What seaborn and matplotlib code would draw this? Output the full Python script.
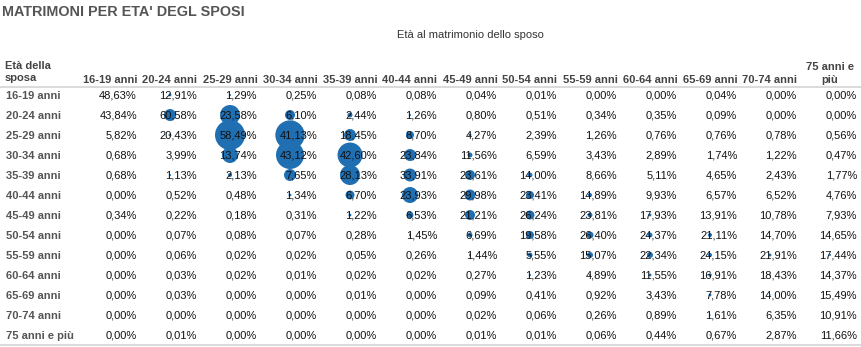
import matplotlib
matplotlib.use("Agg")
import matplotlib.pyplot as plt
import matplotlib.transforms as mtransforms
from matplotlib.lines import Line2D
import seaborn as sns
import pandas as pd

sns.set_theme(style="white")
plt.rcParams['font.family'] = ['Liberation Sans', 'DejaVu Sans']

title = "MATRIMONI PER ETA' DEGL SPOSI"
subtitle = "Età al matrimonio dello sposo"
row_header = "Età della\nsposa"

groom_ages = ["16-19 anni", "20-24 anni", "25-29 anni", "30-34 anni", "35-39 anni",
              "40-44 anni", "45-49 anni", "50-54 anni", "55-59 anni", "60-64 anni",
              "65-69 anni", "70-74 anni", "75 anni e\npiù"]
bride_ages = ["16-19 anni", "20-24 anni", "25-29 anni", "30-34 anni", "35-39 anni",
              "40-44 anni", "45-49 anni", "50-54 anni", "55-59 anni", "60-64 anni",
              "65-69 anni", "70-74 anni", "75 anni e più"]

# percentages (rows = bride age, columns = groom age)
pct = [
    [48.63, 12.91, 1.29, 0.25, 0.08, 0.08, 0.04, 0.01, 0.00, 0.00, 0.04, 0.00, 0.00],
    [43.84, 60.58, 23.58, 6.10, 2.44, 1.26, 0.80, 0.51, 0.34, 0.35, 0.09, 0.00, 0.00],
    [5.82, 20.43, 58.49, 41.13, 18.45, 8.70, 4.27, 2.39, 1.26, 0.76, 0.76, 0.78, 0.56],
    [0.68, 3.99, 13.74, 43.12, 42.60, 23.84, 11.56, 6.59, 3.43, 2.89, 1.74, 1.22, 0.47],
    [0.68, 1.13, 2.13, 7.65, 28.13, 33.91, 23.61, 14.00, 8.66, 5.11, 4.65, 2.43, 1.77],
    [0.00, 0.52, 0.48, 1.34, 6.70, 23.93, 29.98, 23.41, 14.89, 9.93, 6.57, 6.52, 4.76],
    [0.34, 0.22, 0.18, 0.31, 1.22, 6.53, 21.21, 26.24, 23.81, 17.93, 13.91, 10.78, 7.93],
    [0.00, 0.07, 0.08, 0.07, 0.28, 1.45, 6.69, 19.58, 26.40, 24.37, 21.11, 14.70, 14.65],
    [0.00, 0.06, 0.02, 0.02, 0.05, 0.26, 1.44, 5.55, 15.07, 22.34, 24.15, 21.91, 17.44],
    [0.00, 0.03, 0.02, 0.01, 0.02, 0.02, 0.27, 1.23, 4.89, 11.55, 16.91, 18.43, 14.37],
    [0.00, 0.03, 0.00, 0.00, 0.01, 0.00, 0.09, 0.41, 0.92, 3.43, 7.78, 14.00, 15.49],
    [0.00, 0.00, 0.00, 0.00, 0.00, 0.00, 0.02, 0.06, 0.26, 0.89, 1.61, 6.35, 10.91],
    [0.00, 0.01, 0.00, 0.00, 0.00, 0.00, 0.01, 0.01, 0.06, 0.44, 0.67, 2.87, 11.66],
]

# relative number of marriages (bubble area)
weight = [
    [0, 2, 1, 0, 0, 0, 0, 0, 0, 0, 0, 0, 0],
    [0, 36, 100, 25, 6, 1, 0, 0, 0, 0, 0, 0, 0],
    [0, 2, 225, 215, 36, 16, 2, 0, 0, 0, 0, 0, 0],
    [0, 0, 64, 196, 156, 36, 6, 0, 0, 0, 0, 0, 0],
    [0, 1, 4, 36, 100, 42, 25, 6, 0, 0, 0, 0, 0],
    [0, 0, 0, 2, 20, 64, 30, 16, 4, 0, 0, 0, 0],
    [0, 0, 0, 0, 2, 12, 25, 20, 6, 2, 0, 0, 0],
    [0, 0, 0, 0, 0, 1, 6, 16, 12, 6, 4, 0, 0],
    [0, 0, 0, 0, 0, 0, 1, 6, 9, 9, 4, 2, 1],
    [0, 0, 0, 0, 0, 0, 0, 1, 1, 2, 3, 0.5, 0],
    [0, 0, 0, 0, 0, 0, 0, 0, 0, 0.5, 2, 0.5, 0],
    [0, 0, 0, 0, 0, 0, 0, 0, 0, 0, 0.5, 0, 0],
    [0, 0, 0, 0, 0, 0, 0, 0, 0, 0, 0.3, 0, 0],
]

W, H = 862, 347
fig = plt.figure(figsize=(W / 100, H / 100), dpi=100)
# axes: column index -0.5..12.5 -> px 80..860 ; row index -0.5..12.5 -> px 85..345
ax = fig.add_axes([80 / W, (H - 345) / H, 780 / W, 260 / H])

recs = []
for i, b in enumerate(bride_ages):
    for j, g in enumerate(groom_ages):
        if weight[i][j] > 0:
            recs.append({"gi": j, "bi": i, "w": weight[i][j]})
df = pd.DataFrame(recs)

sns.scatterplot(data=df, x="gi", y="bi", size="w", sizes=(0, 466), size_norm=(0, 225),
                color="#1f6fb2", linewidth=0, legend=False, ax=ax, zorder=2)
ax.set_xlim(-0.5, len(groom_ages) - 0.5)
ax.set_ylim(len(bride_ages) - 0.5, -0.5)
ax.axis('off')

fs = 8
for i in range(len(bride_ages)):
    for j in range(len(groom_ages)):
        s = f"{pct[i][j]:.2f}".replace('.', ',') + '%'
        ax.text(j + 0.45, i, s, ha='right', va='center_baseline', fontsize=fs,
                color='#111111', zorder=3)

# row labels
trans_rows = mtransforms.blended_transform_factory(fig.transFigure, ax.transData)
for i, b in enumerate(bride_ages):
    ax.text(6 / W, i, b, transform=trans_rows, ha='left', va='center_baseline', fontsize=fs,
            fontweight='bold', color='#555555')

# column headers
for j, g in enumerate(groom_ages):
    ax.text(j, -0.8, g, ha='center', va='bottom', fontsize=fs, fontweight='bold',
            color='#444444', linespacing=1.35, clip_on=False,
            transform=ax.transData + mtransforms.ScaledTranslation(0, -6 / 100, fig.dpi_scale_trans))

fig.text(5 / W, 1 - 72 / H, row_header, ha='left', va='center', fontsize=fs,
         fontweight='bold', color='#444444', linespacing=1.35)

fig.text(2 / W, 1 - 12 / H, title, ha='left', va='center', fontsize=10.4,
         fontweight='bold', color='#555555')
fig.text(470 / W, 1 - 35 / H, subtitle, ha='center', va='center', fontsize=fs,
         color='#333333')

for py in (87, 345):
    fig.add_artist(Line2D([0, 1], [1 - py / H, 1 - py / H], transform=fig.transFigure,
                          color='#d4d4d4', lw=1.2))

fig.savefig("out.png", dpi=100)
